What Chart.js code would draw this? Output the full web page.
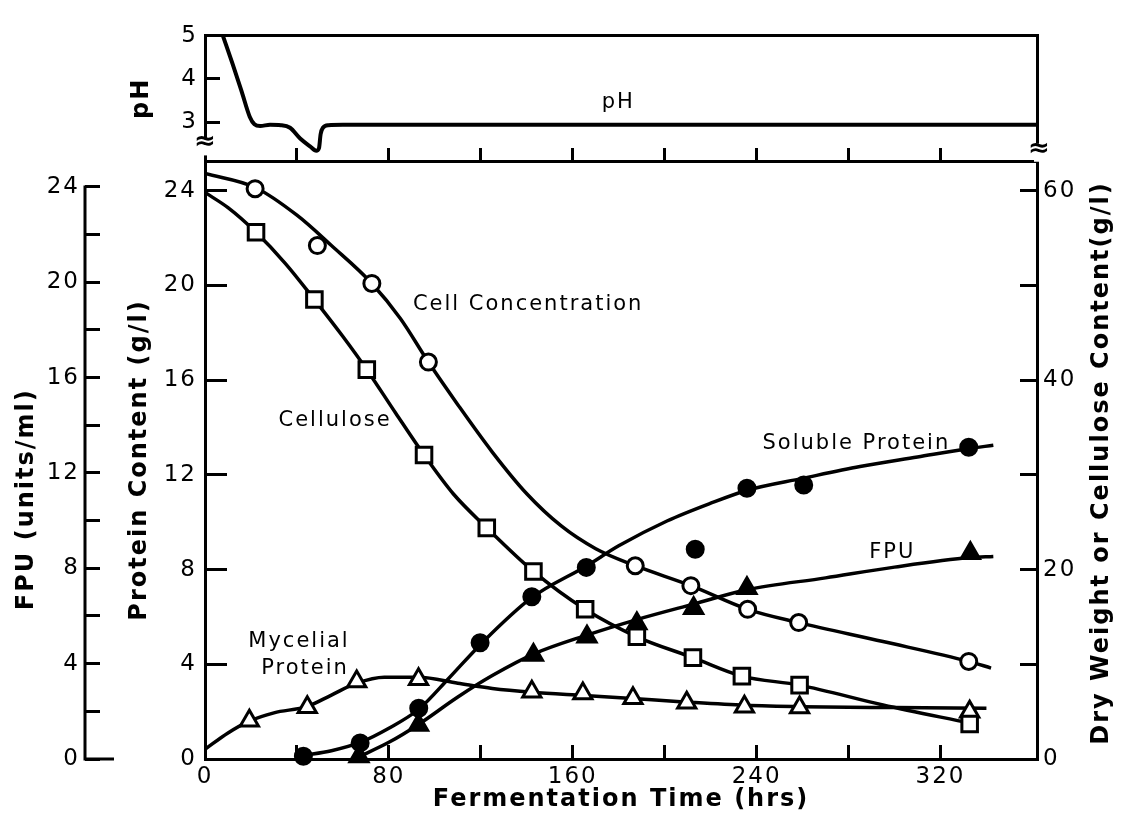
<!DOCTYPE html>
<html>
<head>
<meta charset="UTF-8">
<script src="https://cdn.jsdelivr.net/npm/chart.js"></script>
<style>
  body { margin: 0; background: #fff; }
  #wrap { position: relative; width: 1129px; height: 824px; }
  canvas { position: absolute; left: 0; top: 0; }
</style>
</head>
<body>
<div id="wrap">
  <canvas id="main" width="1129" height="824"></canvas>
  <canvas id="ph" width="1129" height="824"></canvas>
</div>
<script>
// pH trace (hrs, pH)
const phHours = [7.8, 12, 16, 19.5, 21.5, 24, 28.3, 33, 37, 41.4, 45.7, 48.4, 49.6, 50.3, 51.3, 53.7, 60, 120, 240, 362];
const phValues = [5.0, 4.35, 3.7, 3.12, 2.95, 2.91, 2.94, 2.93, 2.87, 2.62, 2.44, 2.34, 2.4, 2.72, 2.87, 2.93, 2.94, 2.94, 2.94, 2.94];

// Cell concentration, dry weight (g/l)
const cellHours = [21.8, 48.9, 72.6, 97.2, 187.2, 211.4, 236.1, 258.3, 332.3];
const cellValues = [60.2, 54.2, 50.2, 41.9, 20.4, 18.3, 15.8, 14.4, 10.3];
const cellFitHours = [0, 22, 40, 55, 72.6, 85, 97.2, 110, 125, 140, 155, 170, 187.2, 211.4, 236.1, 258.3, 295, 332.3, 342];
const cellFitValues = [61.8, 60.3, 57.4, 54.2, 50.2, 46.5, 41.9, 37.4, 32.4, 28.0, 24.6, 22.2, 20.4, 18.3, 15.8, 14.4, 12.4, 10.3, 9.6];

// Cellulose content (g/l)
const celluloseHours = [22.2, 47.6, 70.4, 95.3, 122.6, 142.9, 165.4, 187.9, 212.3, 233.6, 258.7, 332.7];
const celluloseValues = [55.6, 48.5, 41.1, 32.1, 24.4, 19.8, 15.8, 12.9, 10.7, 8.75, 7.8, 3.7];
const celluloseFitHours = [0, 10, 22.2, 35, 47.6, 60, 70.4, 83, 95.3, 108, 122.6, 142.9, 165.4, 187.9, 212.3, 233.6, 258.7, 295, 332.7];
const celluloseFitValues = [59.8, 58.2, 55.6, 52.3, 48.5, 44.6, 41.1, 36.5, 32.1, 28.0, 24.4, 19.8, 15.8, 12.9, 10.7, 8.75, 7.8, 5.7, 3.8];

// Soluble protein (g/l)
const solubleHours = [42.8, 67.5, 93.0, 119.7, 142.2, 165.9, 213.3, 235.8, 260.5, 332.3];
const solubleValues = [0.12, 0.68, 2.14, 4.91, 6.85, 8.09, 8.86, 11.43, 11.57, 13.16];
const solubleFitHours = [42.8, 55, 67.5, 80, 93, 106, 120, 142, 166, 180, 201, 220, 236, 260, 285, 310, 332, 343];
const solubleFitValues = [0.15, 0.35, 0.7, 1.3, 2.1, 3.4, 4.85, 6.8, 8.15, 9.0, 10.05, 10.8, 11.35, 11.85, 12.35, 12.75, 13.1, 13.25];

// Mycelial protein (g/l)
const mycelialHours = [19.3, 44.5, 66.0, 92.9, 142.2, 164.4, 186.2, 209.6, 234.7, 258.7, 332.7];
const mycelialValues = [1.62, 2.18, 3.27, 3.37, 2.84, 2.77, 2.56, 2.38, 2.21, 2.17, 2.0];
const mycelialFitHours = [0, 10, 19.3, 30, 44.5, 55, 66, 78, 93, 110, 125, 142.2, 165, 186, 210, 235, 260, 300, 340];
const mycelialFitValues = [0.41, 1.1, 1.6, 1.95, 2.22, 2.7, 3.2, 3.45, 3.45, 3.2, 2.98, 2.82, 2.68, 2.55, 2.4, 2.27, 2.21, 2.17, 2.14];

// Filter paper activity (units/ml)
const fpuHours = [67, 92.9, 142.9, 166.2, 187.9, 212.6, 235.8, 333];
const fpuValues = [0.1, 1.43, 4.36, 5.13, 5.69, 6.32, 7.16, 8.63];
const fpuFitHours = [66, 80, 92.9, 110, 125, 142.9, 166.2, 187.9, 212.6, 235.8, 270, 300, 333, 343];
const fpuFitValues = [0.05, 0.7, 1.45, 2.6, 3.5, 4.4, 5.2, 5.85, 6.5, 7.1, 7.6, 8.05, 8.45, 8.5];

// curve labels: text, hrs, protein-axis value
const curveLabels = [
  ['Cell Concentration', 140.6, 19.2],
  ['Cellulose', 56.6, 14.3],
  ['Mycelial', 40.9, 4.98],
  ['Protein', 43.5, 3.84],
  ['Soluble Protein', 283.4, 13.34],
  ['FPU', 299, 8.7],
];

const ink = '#000';
const family = 'DejaVu Sans';
const tickFont = { family, size: 23 };
const titleFont = { family, size: 24, weight: 'bold' };

function pts(xs, ys) {
  return xs.map((x, i) => ({ x, y: ys[i] }));
}

function fitLine(xs, ys, axis) {
  return {
    data: pts(xs, ys), yAxisID: axis, borderColor: ink, borderWidth: 3.5,
    pointRadius: 0, cubicInterpolationMode: 'monotone', fill: false, order: 2,
  };
}

function markers(xs, ys, axis, style, filled, r) {
  return {
    data: pts(xs, ys), yAxisID: axis, showLine: false, clip: false,
    pointStyle: style, pointRadius: r, pointHoverRadius: r,
    pointBackgroundColor: filled ? ink : '#fff', pointBorderColor: ink,
    pointBorderWidth: 3, order: 1,
  };
}

// wide lettering on every canvas text
const spacing = {
  id: 'spacing',
  beforeUpdate(chart) { chart.ctx.letterSpacing = '2px'; },
  beforeDraw(chart) { chart.ctx.letterSpacing = '2px'; },
};

function inwardGrid(len) {
  return { drawOnChartArea: false, tickLength: -len, tickWidth: 3, tickColor: ink };
}
const axisBorder = { color: ink, width: 3 };

const mainOverlay = {
  id: 'mainOverlay',
  afterDraw(chart) {
    const { ctx, scales, chartArea } = chart;
    const fpu = scales.yFpu, x = scales.x, y = scales.y, dry = scales.yDry;
    ctx.save();
    ctx.letterSpacing = '2px';
    // FPU axis spine, 0..24 only, with a longer foot at zero
    ctx.strokeStyle = ink;
    ctx.lineWidth = 3;
    ctx.beginPath();
    ctx.moveTo(fpu.right, fpu.getPixelForValue(24) - 1.5);
    ctx.lineTo(fpu.right, fpu.getPixelForValue(0));
    ctx.lineTo(fpu.right + 29, fpu.getPixelForValue(0));
    ctx.stroke();

    ctx.fillStyle = ink;
    ctx.textBaseline = 'middle';
    ctx.textAlign = 'center';
    ctx.font = 'bold 24px "DejaVu Sans"';

    ctx.save();
    ctx.translate(fpu.left + 27, fpu.getPixelForValue(10.9));
    ctx.rotate(-Math.PI / 2);
    ctx.fillText('FPU (units/ml)', 0, 0);
    ctx.restore();

    ctx.save();
    ctx.translate(dry.left + 65, (chartArea.top + chartArea.bottom) / 2 + 3);
    ctx.rotate(-Math.PI / 2);
    ctx.fillText('Dry Weight or Cellulose Content(g/l)', 0, 0);
    ctx.restore();

    ctx.font = '21px "DejaVu Sans"';
    curveLabels.forEach(([text, h, v]) => {
      ctx.fillText(text, x.getPixelForValue(h), y.getPixelForValue(v));
    });
    ctx.restore();
  },
};

new Chart(document.getElementById('main'), {
  type: 'line',
  data: {
    datasets: [
      markers(cellHours, cellValues, 'yDry', 'circle', false, 8),
      markers(celluloseHours, celluloseValues, 'yDry', 'rect', false, 11),
      markers(mycelialHours, mycelialValues, 'y', 'triangle', false, 10.5),
      markers(solubleHours, solubleValues, 'y', 'circle', true, 8),
      markers(fpuHours, fpuValues, 'yFpu', 'triangle', true, 10.5),
      fitLine(cellFitHours, cellFitValues, 'yDry'),
      fitLine(celluloseFitHours, celluloseFitValues, 'yDry'),
      fitLine(mycelialFitHours, mycelialFitValues, 'y'),
      fitLine(solubleFitHours, solubleFitValues, 'y'),
      fitLine(fpuFitHours, fpuFitValues, 'yFpu'),
    ],
  },
  options: {
    responsive: false,
    animation: false,
    devicePixelRatio: 1,
    layout: { padding: { top: 161, left: 0, right: 0, bottom: 0 } },
    plugins: { legend: { display: false }, tooltip: { enabled: false } },
    scales: {
      x: {
        type: 'linear', min: 0, max: 362,
        border: axisBorder,
        grid: {
          drawOnChartArea: false, tickLength: -14, tickWidth: 3,
          tickColor: c => (c.tick && c.tick.value > 340 ? 'rgba(0,0,0,0)' : ink),
        },
        ticks: {
          stepSize: 40, autoSkip: false, maxRotation: 0, includeBounds: false,
          padding: 18, color: ink, font: tickFont,
          callback: v => (v % 80 === 0 ? String(v) : ''),
        },
        title: { display: true, text: 'Fermentation Time (hrs)', color: ink, font: titleFont, padding: { top: 0, bottom: 10 } },
        afterFit: s => { s.height = 65; },
      },
      y: {
        position: 'left', min: 0, max: 25.25, weight: 1,
        border: axisBorder,
        grid: inwardGrid(22),
        ticks: { stepSize: 4, includeBounds: false, padding: 30, color: ink, font: tickFont },
        title: { display: true, text: 'Protein Content (g/l)', color: ink, font: titleFont, padding: { top: 40, bottom: 0 } },
        afterFit: s => { s.width = 120; },
      },
      yFpu: {
        position: 'left', min: 0, max: 25.09, weight: 2,
        border: { display: false },
        grid: inwardGrid(15),
        ticks: {
          stepSize: 2, includeBounds: false, padding: 20, color: ink, font: tickFont,
          callback: v => (v % 4 === 0 ? String(v) : ''),
        },
        afterFit: s => { s.width = 85; },
      },
      yDry: {
        position: 'right', min: 0, max: 63.125,
        border: axisBorder,
        grid: inwardGrid(17),
        ticks: {
          stepSize: 10, includeBounds: false, padding: 23, color: ink, font: tickFont,
          callback: v => (v % 20 === 0 ? String(v) : ''),
        },
        afterFit: s => { s.width = 92; },
      },
    },
  },
  plugins: [spacing, mainOverlay],
});

const phOverlay = {
  id: 'phOverlay',
  afterDraw(chart) {
    const { ctx, scales } = chart;
    const x = scales.x, y = scales.y, yr = scales.yRight;
    ctx.save();
    ctx.letterSpacing = '2px';
    ctx.fillStyle = ink;
    ctx.textAlign = 'center';
    ctx.textBaseline = 'middle';
    ctx.font = '21px "DejaVu Sans"';
    ctx.fillText('pH', x.getPixelForValue(179.8), y.getPixelForValue(3.45));

    // axis breaks
    ctx.letterSpacing = '0px';
    ctx.fillStyle = '#fff';
    ctx.fillRect(y.right - 3, y.getPixelForValue(2.6), 6, 16);
    ctx.fillRect(yr.left - 3, y.getPixelForValue(2.5), 6, 18);
    ctx.fillStyle = ink;
    ctx.font = 'bold 26px "DejaVu Sans"';
    ctx.fillText('\u2248', y.right, y.getPixelForValue(2.53));
    ctx.fillText('\u2248', yr.left + 2, y.getPixelForValue(2.38));
    ctx.restore();
  },
};

new Chart(document.getElementById('ph'), {
  type: 'line',
  data: {
    datasets: [{
      data: pts(phHours, phValues), borderColor: ink, borderWidth: 4,
      pointRadius: 0, cubicInterpolationMode: 'monotone', fill: false,
    }],
  },
  options: {
    responsive: false,
    animation: false,
    devicePixelRatio: 1,
    layout: { padding: { top: 26, left: 0, right: 92, bottom: 663 } },
    plugins: { legend: { display: false }, tooltip: { enabled: false } },
    scales: {
      x: {
        type: 'linear', position: 'bottom', min: 0, max: 362,
        border: axisBorder,
        grid: {
          drawOnChartArea: false, tickLength: -13, tickWidth: 3,
          tickColor: c => (c.tick && (c.tick.value === 0 || c.tick.value > 340) ? 'rgba(0,0,0,0)' : ink),
        },
        ticks: { display: false, stepSize: 40, autoSkip: false, includeBounds: false },
        afterFit: s => { s.height = 0; },
      },
      xTop: {
        type: 'linear', position: 'top', min: 0, max: 362,
        border: axisBorder,
        grid: { drawOnChartArea: false, drawTicks: false },
        ticks: { display: false },
        afterFit: s => { s.height = 0; },
      },
      y: {
        position: 'left', min: 2.1, max: 5,
        border: axisBorder,
        grid: inwardGrid(15),
        ticks: { stepSize: 1, includeBounds: false, padding: 22, color: ink, font: tickFont },
        title: { display: true, text: 'pH', color: ink, font: titleFont, padding: { top: 127, bottom: 0 } },
        afterFit: s => { s.width = 205; },
      },
      yRight: {
        position: 'right', min: 2.1, max: 5,
        border: axisBorder,
        grid: { drawOnChartArea: false, drawTicks: false },
        ticks: { display: false },
        afterFit: s => { s.width = 0; },
      },
    },
  },
  plugins: [spacing, phOverlay],
});
</script>
</body>
</html>
